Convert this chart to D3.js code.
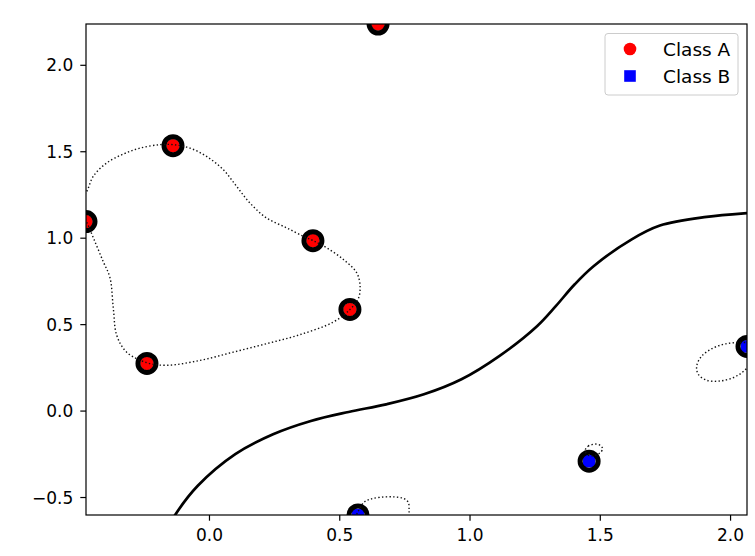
<!DOCTYPE html>
<html>
<head>
<meta charset="utf-8">
<script src="https://cdn.jsdelivr.net/npm/d3@7"></script>
<style>
  body { margin: 0; background: #fff; }
  svg { display: block; font-family: 'DejaVu Sans', sans-serif; }
</style>
</head>
<body>
<div class="canvas"></div>
<script>
// data points
const classA = [[-0.472, 1.093], [-0.138, 1.532], [0.399, 0.983], [0.541, 0.585], [-0.238, 0.273], [0.649, 2.236]];
const classB = [[2.065, 0.371], [1.459, -0.293], [0.572, -0.604]];
const supportVectors = [...classA, ...classB];

const xTicks = [0.0, 0.5, 1.0, 1.5, 2.0];
const yTicks = [-0.5, 0.0, 0.5, 1.0, 1.5, 2.0];

// decision boundary (level 0)
const boundary = [[-0.15, -0.66], [-0.130, -0.604], [-0.043, -0.435], [0.101, -0.252], [0.246, -0.137],
  [0.391, -0.060], [0.536, -0.008], [0.680, 0.036], [0.825, 0.094], [0.969, 0.181], [1.114, 0.315],
  [1.259, 0.488], [1.331, 0.604], [1.403, 0.729], [1.476, 0.835], [1.621, 0.989], [1.731, 1.070],
  [1.910, 1.120], [2.065, 1.142], [2.10, 1.145]];

// margins (levels -1 / +1)
const marginA = [[-0.50, 1.20], [-0.469, 1.268], [-0.444, 1.355], [-0.393, 1.432], [-0.327, 1.485],
  [-0.265, 1.518], [-0.188, 1.538], [-0.137, 1.538], [-0.073, 1.518], [-0.009, 1.470], [0.055, 1.393],
  [0.106, 1.297], [0.157, 1.201], [0.221, 1.114], [0.298, 1.057], [0.362, 1.008], [0.400, 0.983],
  [0.452, 0.941], [0.516, 0.874], [0.567, 0.797], [0.580, 0.719], [0.573, 0.647], [0.541, 0.585],
  [0.477, 0.512], [0.349, 0.439], [0.221, 0.387], [0.093, 0.338], [-0.035, 0.290], [-0.162, 0.262],
  [-0.239, 0.277], [-0.316, 0.338], [-0.354, 0.435], [-0.367, 0.589], [-0.380, 0.769], [-0.406, 0.862],
  [-0.441, 0.989], [-0.469, 1.089], [-0.49, 1.15]];
const marginB1 = [[0.555, -0.64], [0.572, -0.585], [0.595, -0.530], [0.618, -0.513], [0.656, -0.502],
  [0.707, -0.499], [0.746, -0.508], [0.765, -0.531], [0.768, -0.580], [0.768, -0.64]];
const marginB2 = [[1.445, -0.225], [1.455, -0.206], [1.470, -0.197], [1.488, -0.194], [1.503, -0.203],
  [1.511, -0.222], [1.500, -0.245], [1.480, -0.260], [1.460, -0.260], [1.447, -0.245]];
const marginB3 = [[2.10, 0.40], [2.069, 0.394], [2.019, 0.393], [1.974, 0.383], [1.930, 0.358],
  [1.891, 0.315], [1.872, 0.258], [1.878, 0.210], [1.911, 0.175], [1.962, 0.171], [2.013, 0.191],
  [2.045, 0.219], [2.069, 0.250], [2.10, 0.28]];

const width = 755, height = 556;
const margin = { top: 24, right: 8, bottom: 41, left: 86 };

const svg = d3.select('.canvas')
  .append('svg')
    .attr('width', width)
    .attr('height', height);

// axis limits come from the data extent
const x = d3.scaleLinear()
  .domain(d3.extent(supportVectors, d => d[0]))
  .range([margin.left, width - margin.right]);
const y = d3.scaleLinear()
  .domain(d3.extent(supportVectors, d => d[1]))
  .range([height - margin.bottom, margin.top]);

svg.append('clipPath').attr('id', 'clip')
  .append('rect')
    .attr('x', margin.left)
    .attr('y', margin.top)
    .attr('width', width - margin.left - margin.right)
    .attr('height', height - margin.top - margin.bottom);

const plot = svg.append('g').attr('clip-path', 'url(#clip)');

// points
plot.selectAll('.ptA').data(classA).enter()
  .append('circle')
    .attr('cx', d => x(d[0]))
    .attr('cy', d => y(d[1]))
    .attr('r', 6.8)
    .attr('fill', 'red');

plot.selectAll('.ptB').data(classB).enter()
  .append('rect')
    .attr('x', d => x(d[0]) - 6.3)
    .attr('y', d => y(d[1]) - 6.3)
    .attr('width', 12.6)
    .attr('height', 12.6)
    .attr('fill', 'blue');

// support vector rings
plot.selectAll('.sv').data(supportVectors).enter()
  .append('circle')
    .attr('cx', d => x(d[0]))
    .attr('cy', d => y(d[1]))
    .attr('r', 9)
    .attr('fill', 'none')
    .attr('stroke', 'black')
    .attr('stroke-width', 5);

// contours
const line = d3.line().x(d => x(d[0])).y(d => y(d[1])).curve(d3.curveCatmullRom);
const closedLine = d3.line().x(d => x(d[0])).y(d => y(d[1])).curve(d3.curveCatmullRomClosed);

plot.append('path')
  .attr('d', line(boundary))
  .attr('fill', 'none')
  .attr('stroke', 'black')
  .attr('stroke-width', 2.7);

[[marginA, true], [marginB1, false], [marginB2, true], [marginB3, false]].forEach(([pts, closed]) => {
  plot.append('path')
    .attr('d', closed ? closedLine(pts) : line(pts))
    .attr('fill', 'none')
    .attr('stroke', '#111')
    .attr('stroke-width', 1.4)
    .attr('stroke-dasharray', '1.4,2.3');
});

// axes
const fmt = d3.format('.1f');
const xAxis = svg.append('g')
  .attr('transform', `translate(0,${height - margin.bottom})`)
  .call(d3.axisBottom(x).tickValues(xTicks).tickFormat(fmt).tickSize(5.7).tickPadding(8));
const yAxis = svg.append('g')
  .attr('transform', `translate(${margin.left},0)`)
  .call(d3.axisLeft(y).tickValues(yTicks).tickFormat(fmt).tickSize(5.7).tickPadding(7));

[xAxis, yAxis].forEach(a => {
  a.select('.domain').remove();
  a.selectAll('line').attr('stroke', 'black').attr('stroke-width', 1.2);
  a.selectAll('text').attr('font-size', '17px').attr('fill', '#000')
    .attr('font-family', "'DejaVu Sans', sans-serif");
});
yAxis.selectAll('text').attr('dy', '0.36em');

// frame
svg.append('rect')
  .attr('x', margin.left)
  .attr('y', margin.top)
  .attr('width', width - margin.left - margin.right)
  .attr('height', height - margin.top - margin.bottom)
  .attr('fill', 'none')
  .attr('stroke', 'black')
  .attr('stroke-width', 1.2);

// legend
const legendItems = [{ name: 'Class A', color: 'red', shape: 'circle' },
                     { name: 'Class B', color: 'blue', shape: 'square' }];
const legend = svg.append('g').attr('transform', 'translate(605,33.5)');
legend.append('rect')
  .attr('width', 133)
  .attr('height', 61.5)
  .attr('rx', 3)
  .attr('fill', 'white')
  .attr('fill-opacity', 0.8)
  .attr('stroke', '#cccccc')
  .attr('stroke-width', 1);

legendItems.forEach((d, i) => {
  const g = legend.append('g').attr('transform', `translate(25,${15.5 + i * 27})`);
  if (d.shape === 'circle') {
    g.append('circle').attr('r', 6.3).attr('fill', d.color);
  } else {
    g.append('rect').attr('x', -5.8).attr('y', -5.8).attr('width', 11.6).attr('height', 11.6).attr('fill', d.color);
  }
  g.append('text')
    .attr('x', 33)
    .attr('dy', '0.36em')
    .attr('font-size', '18.5px')
    .attr('fill', '#000')
    .text(d.name);
});
</script>
</body>
</html>
